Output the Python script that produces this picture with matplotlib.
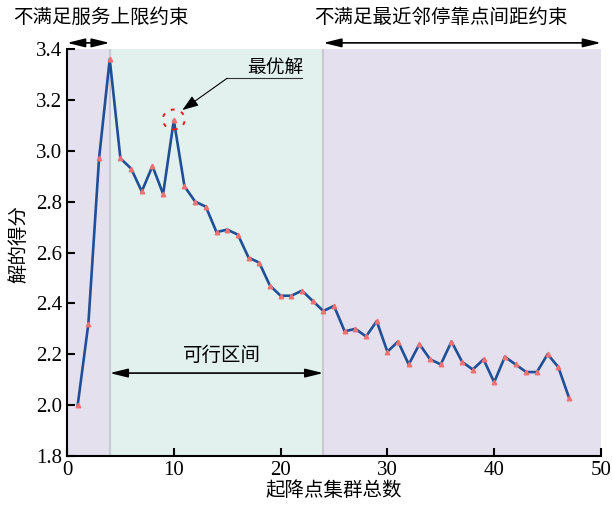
import numpy as np
import matplotlib.pyplot as plt
from matplotlib.patches import Ellipse

plt.rcParams['font.family'] = ['Liberation Serif', 'Noto Sans CJK SC']
plt.rcParams['axes.unicode_minus'] = False

# number of clusters and the score of each solution
n_cluster = list(range(1, 48))
score = [2.00, 2.32, 2.97, 3.36, 2.97, 2.93, 2.84, 2.94, 2.83, 3.12,
         2.86, 2.80, 2.78, 2.68, 2.69, 2.67, 2.58, 2.56, 2.47, 2.43,
         2.43, 2.45, 2.41, 2.37, 2.39, 2.29, 2.30, 2.27, 2.33, 2.21,
         2.25, 2.16, 2.24, 2.18, 2.16, 2.25, 2.17, 2.14, 2.18, 2.09,
         2.19, 2.16, 2.13, 2.13, 2.20, 2.15, 2.03]
feasible = [4, 24]
best_x, best_y = 10, 3.12

fig = plt.figure(figsize=(6.12, 5.05), dpi=100)
ax = fig.add_axes([0.1095, 0.097, 0.8725, 0.806])

lav = '#e5e0ee'
teal = '#e2f1ee'
ax.axvspan(0, feasible[0], color=lav, lw=0)
ax.axvspan(feasible[0], feasible[1], color=teal, lw=0)
ax.axvspan(feasible[1], 50, color=lav, lw=0)
for xv in feasible:
    ax.axvline(xv, color='#c9c9d2', lw=1.5)

ax.plot(n_cluster, score, color='#1f4f96', lw=1.9, zorder=3)
ax.plot(n_cluster, score, ls='none', marker='^', ms=3.3, color='#ee7272', zorder=4)

ax.set_xlim(0, 50)
ax.set_ylim(1.8, 3.4)
ax.set_xticks(range(0, 51, 10))
ax.set_yticks(np.arange(1.8, 3.41, 0.2))
ax.yaxis.set_major_formatter(plt.FormatStrFormatter('%.1f'))
ax.tick_params(direction='in', length=6, width=1.5, labelsize=15)
for s in ['top', 'right']:
    ax.spines[s].set_visible(False)
for s in ['left', 'bottom']:
    ax.spines[s].set_linewidth(1.5)
ax.set_xlabel('起降点集群总数', fontsize=14, labelpad=1)
ax.set_ylabel('解的得分', fontsize=14)
ax.yaxis.set_label_coords(-0.073, 0.52)

# constraint arrows above the axes
trans = ax.get_xaxis_transform()
arr = dict(arrowstyle='<|-|>,head_length=0.9,head_width=0.22', color='black',
           lw=1.2, mutation_scale=12, shrinkA=0, shrinkB=0)
ax.annotate('', xy=(0, 1.015), xytext=(feasible[0], 1.015), xycoords=trans,
            arrowprops=arr, annotation_clip=False)
ax.annotate('', xy=(feasible[1], 1.015), xytext=(50, 1.015), xycoords=trans,
            arrowprops=arr, annotation_clip=False)
ax.text(3.2, 1.076, '不满足服务上限约束', transform=trans, ha='center', va='center',
        fontsize=14, clip_on=False)
ax.text(35.0, 1.076, '不满足最近邻停靠点间距约束', transform=trans, ha='center', va='center',
        fontsize=14, clip_on=False)

# feasible interval
ax.annotate('', xy=(feasible[0], 2.126), xytext=(feasible[1], 2.126),
            arrowprops=arr)
ax.text(14.5, 2.195, '可行区间', ha='center', va='center', fontsize=14)

# best solution
ax.add_patch(Ellipse((best_x, best_y + 0.003), 2.06, 0.078, fill=False,
                     ec='#e02020', ls=(0, (2, 3.5)), lw=1.4, zorder=5))
ax.plot([15, 22], [3.285, 3.285], color='#333333', lw=0.8)
ax.annotate('', xy=(10.8, 3.16), xytext=(15, 3.285),
            arrowprops=dict(arrowstyle='-|>,head_length=0.7,head_width=0.25',
                            color='black', lw=0.8, mutation_scale=14,
                            shrinkA=0, shrinkB=0))
ax.text(19.5, 3.29, '最优解', ha='center', va='bottom', fontsize=13.5)

fig.savefig('out.png', dpi=100)
